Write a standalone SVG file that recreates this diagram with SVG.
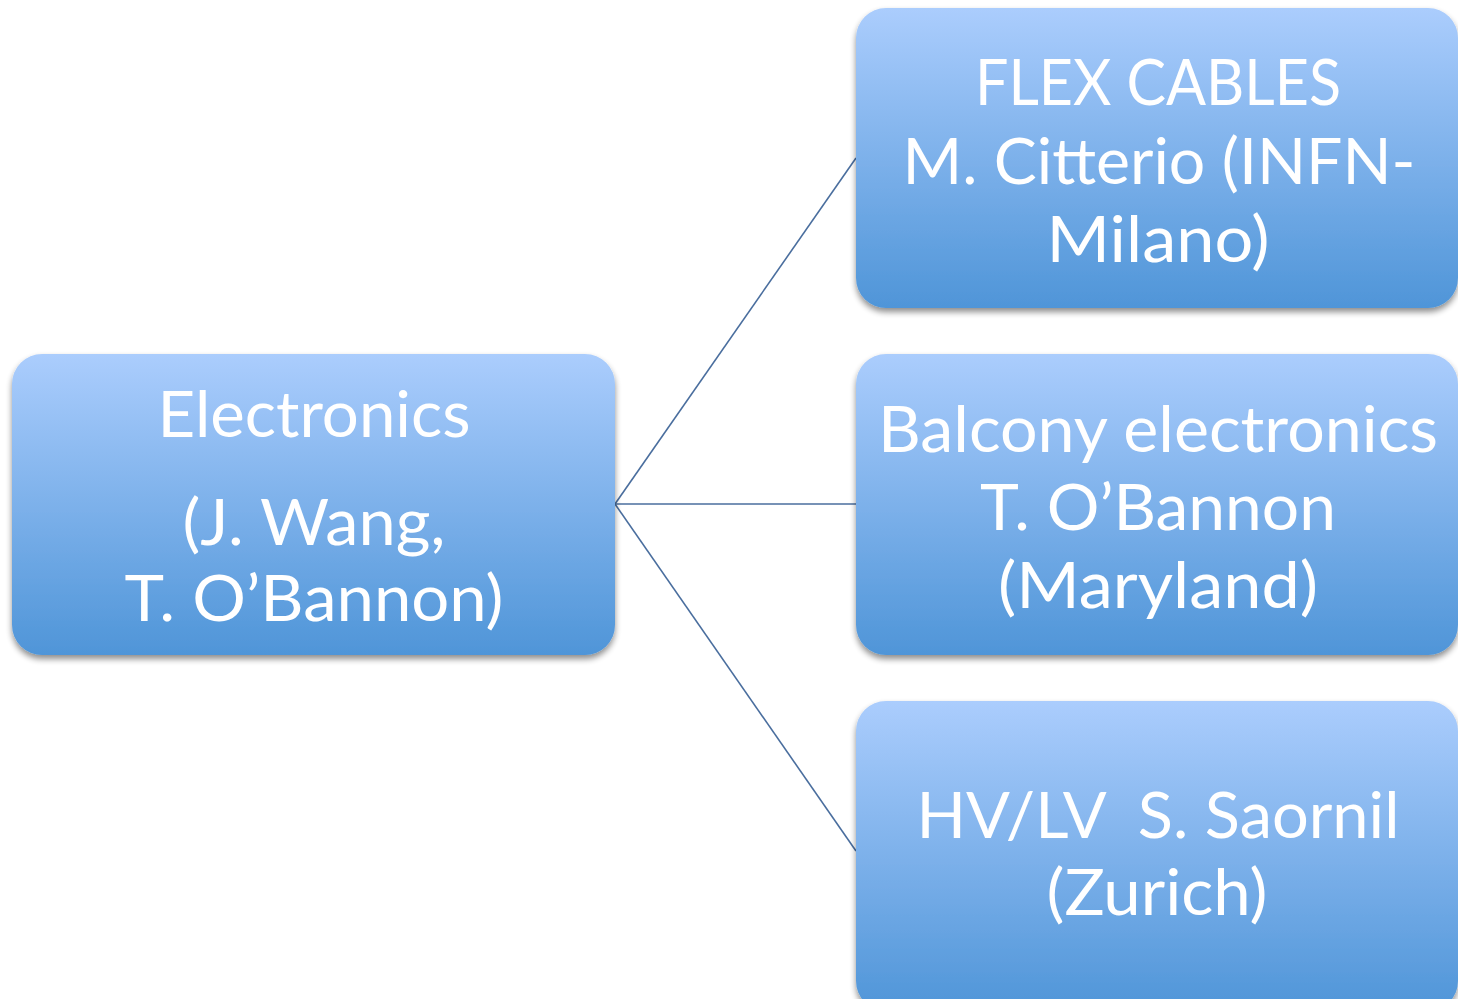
<svg xmlns="http://www.w3.org/2000/svg" width="1458" height="999" viewBox="0 0 1458 999">
<defs>
<linearGradient id="g" x1="0" y1="0" x2="0" y2="1">
<stop offset="0" stop-color="#abcdfd"/>
<stop offset="1" stop-color="#4f95d8"/>
</linearGradient>
<filter id="sh" x="-5%" y="-5%" width="110%" height="115%">
<feGaussianBlur in="SourceAlpha" stdDeviation="3"/>
<feOffset dy="4" result="b"/>
<feComponentTransfer><feFuncA type="linear" slope="0.45"/></feComponentTransfer>
<feMerge><feMergeNode/><feMergeNode in="SourceGraphic"/></feMerge>
</filter>
</defs>
<style>
.box{fill:url(#g);filter:url(#sh)}
.t{font-family:Lato,"Open Sans",sans-serif;font-size:63px;fill:#fff;text-anchor:middle}
.c{stroke:#4a6e9e;stroke-width:1.6;fill:none}
</style>
<rect width="1458" height="999" fill="#fff"/>
<g id="connectors">
<line class="c" x1="615" y1="504" x2="856" y2="158"/>
<line class="c" x1="615" y1="504" x2="856" y2="504"/>
<line class="c" x1="615" y1="504" x2="856" y2="851"/>
</g>
<g id="electronics">
<rect class="box" x="12" y="354" width="603" height="301" rx="30"/>
<text class="t" x="314" y="437" textLength="313" lengthAdjust="spacingAndGlyphs">Electronics</text>
<text class="t" x="314" y="545" textLength="263" lengthAdjust="spacingAndGlyphs">(J. Wang,</text>
<text class="t" x="314" y="621" textLength="379" lengthAdjust="spacingAndGlyphs">T. O’Bannon)</text>
</g>
<g id="flex">
<rect class="box" x="856" y="8" width="602" height="300" rx="30"/>
<text class="t" x="1158" y="105" textLength="366" lengthAdjust="spacingAndGlyphs">FLEX CABLES</text>
<text class="t" x="1159" y="184" textLength="513" lengthAdjust="spacingAndGlyphs">M. Citterio (INFN-</text>
<text class="t" x="1158" y="262" textLength="223" lengthAdjust="spacingAndGlyphs">Milano)</text>
</g>
<g id="balcony">
<rect class="box" x="856" y="354" width="602" height="301" rx="30"/>
<text class="t" x="1158" y="452" textLength="560" lengthAdjust="spacingAndGlyphs">Balcony electronics</text>
<text class="t" x="1158" y="530" textLength="356" lengthAdjust="spacingAndGlyphs">T. O’Bannon</text>
<text class="t" x="1158" y="608" textLength="320" lengthAdjust="spacingAndGlyphs">(Maryland)</text>
</g>
<g id="hvlv">
<rect class="box" x="856" y="701" width="602" height="310" rx="30"/>
<text class="t" x="1158" y="838" textLength="483" lengthAdjust="spacingAndGlyphs" xml:space="preserve">HV/LV  S. Saornil</text>
<text class="t" x="1157" y="915" textLength="221" lengthAdjust="spacingAndGlyphs">(Zurich)</text>
</g>
</svg>
